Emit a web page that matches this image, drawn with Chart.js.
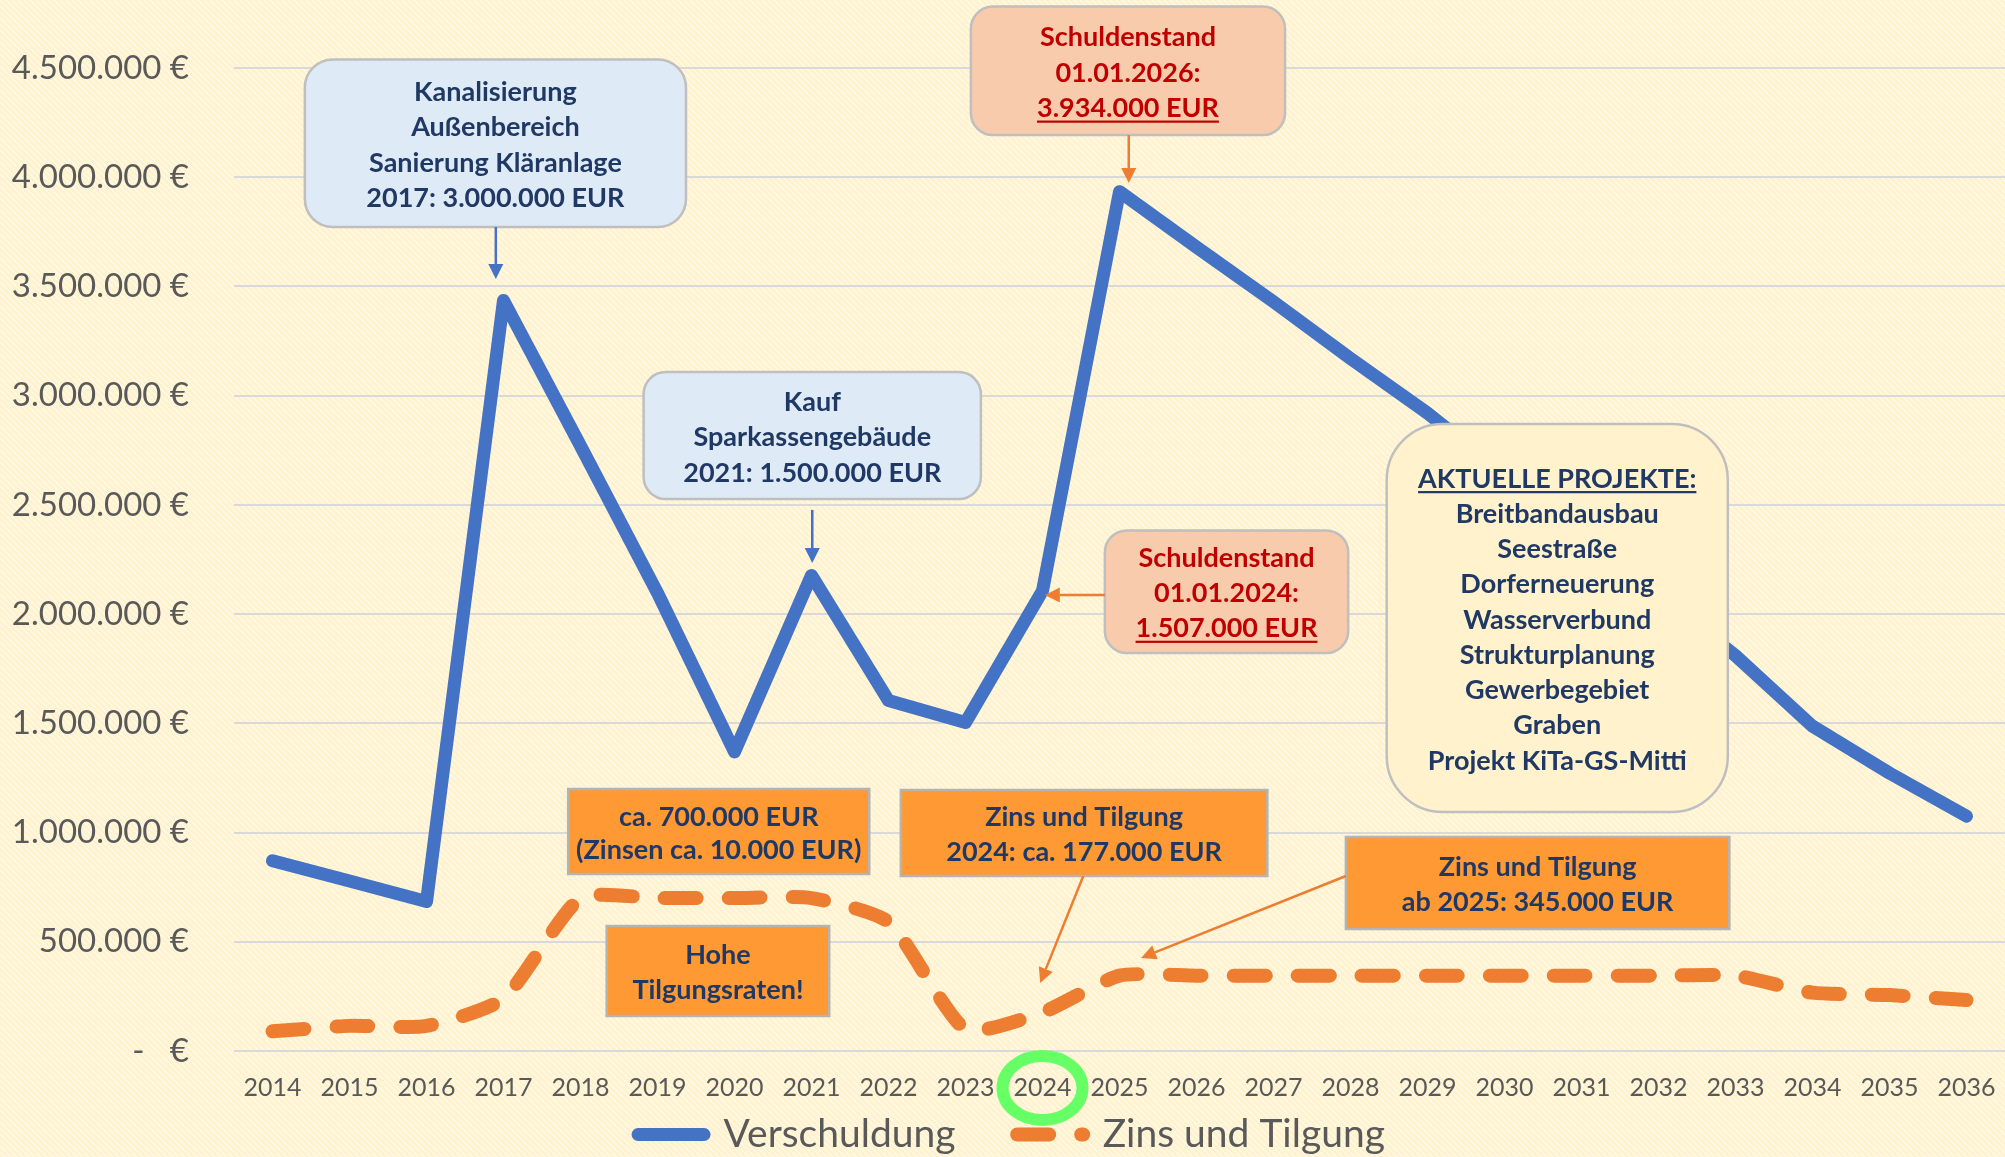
<!DOCTYPE html>
<html><head><meta charset="utf-8">
<script src="https://cdn.jsdelivr.net/npm/chart.js@4.4.1/dist/chart.umd.min.js"></script>
<style>html,body{margin:0;padding:0;background:#FFF2CC;}canvas{display:block;}</style>
</head><body>
<canvas id="c" width="2005" height="1157"></canvas>
<script>
// ---------- DATA ----------
const years = ['2014','2015','2016','2017','2018','2019','2020','2021','2022','2023','2024','2025','2026','2027','2028','2029','2030','2031','2032','2033','2034','2035','2036'];
const verschuldung = [871000, 778000, 684000, 3436000, 2770000, 2097000, 1369000, 2177000, 1604000, 1504000, 2107000, 3934000, 3680000, 3430000, 3170000, 2920000, 2640000, 2360000, 2090000, 1810000, 1487000, 1272000, 1075000];
const zinsTilgung = [90000, 115000, 115000, 240000, 700000, 700000, 700000, 700000, 590000, 100000, 177000, 345000, 345000, 345000, 345000, 345000, 345000, 345000, 345000, 345000, 267000, 256000, 233000];
const seriesNames = ['Verschuldung', 'Zins und Tilgung'];
const yMin = 0, yMax = 4500000, yStep = 500000;
const highlightYear = '2024';

// ---------- ANNOTATIONS (x in category index units, y in axis values) ----------
const boxes = [
  {x0:0.42, x1:5.37, y0:4539000, y1:3772000, r:28, fill:'#DEEBF7', stroke:'#BFBFBF', color:'#203864', lh:35.3,
   lines:['Kanalisierung','Außenbereich','Sanierung Kläranlage','2017: 3.000.000 EUR']},
  {x0:4.82, x1:9.20, y0:3108000, y1:2527000, r:22, fill:'#DEEBF7', stroke:'#BFBFBF', color:'#203864', lh:35.5,
   lines:['Kauf','Sparkassengebäude','2021: 1.500.000 EUR']},
  {x0:9.07, x1:13.15, y0:4781000, y1:4193000, r:22, fill:'#F8CBAD', stroke:'#BFBFBF', color:'#C00000', lh:35.7,
   lines:['Schuldenstand','01.01.2026:','3.934.000 EUR'], underline:[2]},
  {x0:10.81, x1:13.97, y0:2383000, y1:1822000, r:22, fill:'#F8CBAD', stroke:'#BFBFBF', color:'#C00000', lh:35,
   lines:['Schuldenstand','01.01.2024:','1.507.000 EUR'], underline:[2]},
  {x0:14.47, x1:18.90, y0:2870000, y1:1094000, r:56, fill:'#FFF2CC', stroke:'#BFBFBF', color:'#203864', lh:35.25,
   lines:['AKTUELLE PROJEKTE:','Breitbandausbau','Seestraße','Dorferneuerung','Wasserverbund','Strukturplanung','Gewerbegebiet','Graben','Projekt KiTa-GS-Mitti'], underline:[0]},
  {x0:3.84, x1:7.75, y0:1199000, y1:810000, r:0, fill:'#FF9933', stroke:'#B4B4B4', color:'#203864', lh:33,
   lines:['ca. 700.000 EUR','(Zinsen ca. 10.000 EUR)']},
  {x0:4.34, x1:7.23, y0:572000, y1:160000, r:0, fill:'#FF9933', stroke:'#B4B4B4', color:'#203864', lh:35,
   lines:['Hohe','Tilgungsraten!']},
  {x0:8.16, x1:12.92, y0:1195000, y1:801000, r:0, fill:'#FF9933', stroke:'#B4B4B4', color:'#203864', lh:35,
   lines:['Zins und Tilgung','2024: ca. 177.000 EUR']},
  {x0:13.94, x1:18.92, y0:980000, y1:558000, r:0, fill:'#FF9933', stroke:'#B4B4B4', color:'#203864', lh:35,
   lines:['Zins und Tilgung','ab 2025: 345.000 EUR']}
];
const arrows = [
  {a:[2.90,3772000], b:[2.90,3534000], color:'#4472C4'},
  {a:[7.01,2477000], b:[7.01,2234000], color:'#4472C4'},
  {a:[11.12,4193000], b:[11.12,3973000], color:'#ED7D31'},
  {a:[10.81,2087000], b:[10.03,2087000], color:'#ED7D31'},
  {a:[10.53,801000], b:[9.97,311000], color:'#ED7D31'},
  {a:[13.94,801000], b:[11.28,426000], color:'#ED7D31'}
];

const X_LABEL_LH = 74; // line box of the year labels
const LEGEND_SHIFT = 9;

function fmtEuro(v){
  if (v === 0) return '-\u00A0\u00A0\u00A0€';
  return String(v).replace(/\B(?=(\d{3})+(?!\d))/g, '.') + ' €';
}

// background pattern
const pat = document.createElement('canvas');
pat.width = 6; pat.height = 6;
(function(){
  const pc = pat.getContext('2d');
  pc.fillStyle = '#FFF2CC'; pc.fillRect(0,0,6,6);
  pc.strokeStyle = 'rgba(255,255,255,0.6)'; pc.lineWidth = 1.3;
  pc.beginPath();
  for (let k=-6;k<=6;k+=6){ pc.moveTo(k,0); pc.lineTo(k+6,6); }
  pc.stroke();
})();

const bgPlugin = {
  id:'bg',
  afterLayout(chart){
    if (chart.legend){ chart.legend.left += LEGEND_SHIFT; chart.legend.right += LEGEND_SHIFT; }
  },
  beforeDraw(chart){
    const ctx = chart.ctx;
    ctx.save();
    ctx.fillStyle = ctx.createPattern(pat,'repeat');
    ctx.fillRect(0,0,chart.width,chart.height);
    ctx.restore();
  }
};

function roundRect(ctx,x,y,w,h,r){
  ctx.beginPath();
  if (r<=0){ ctx.rect(x,y,w,h); return; }
  ctx.moveTo(x+r,y); ctx.lineTo(x+w-r,y); ctx.arcTo(x+w,y,x+w,y+r,r);
  ctx.lineTo(x+w,y+h-r); ctx.arcTo(x+w,y+h,x+w-r,y+h,r);
  ctx.lineTo(x+r,y+h); ctx.arcTo(x,y+h,x,y+h-r,r);
  ctx.lineTo(x,y+r); ctx.arcTo(x,y,x+r,y,r); ctx.closePath();
}

const notesPlugin = {
  id:'notes',
  afterDraw(chart){
    const ctx = chart.ctx, xs = chart.scales.x, ys = chart.scales.y;
    ctx.save();
    ctx.font = 'bold 27px Lato';
    ctx.textAlign = 'center';
    ctx.textBaseline = 'middle';
    for (const b of boxes){
      const X0 = xs.getPixelForValue(b.x0), X1 = xs.getPixelForValue(b.x1);
      const Y0 = ys.getPixelForValue(b.y0), Y1 = ys.getPixelForValue(b.y1);
      roundRect(ctx, X0, Y0, X1-X0, Y1-Y0, b.r);
      ctx.fillStyle = b.fill; ctx.fill();
      ctx.lineWidth = 2.5; ctx.strokeStyle = b.stroke; ctx.stroke();
      const cx = (X0+X1)/2, cy = (Y0+Y1)/2 + 2;
      const n = b.lines.length;
      ctx.fillStyle = b.color;
      b.lines.forEach((t,i)=>{
        const ty = cy + (i-(n-1)/2)*b.lh;
        ctx.fillText(t, cx, ty);
        if (b.underline && b.underline.includes(i)){
          const w = ctx.measureText(t).width;
          ctx.fillRect(cx-w/2, ty+12, w, 2.2);
        }
      });
    }
    for (const a of arrows){
      const x0 = xs.getPixelForValue(a.a[0]), y0 = ys.getPixelForValue(a.a[1]);
      const x1 = xs.getPixelForValue(a.b[0]), y1 = ys.getPixelForValue(a.b[1]);
      const ang = Math.atan2(y1-y0, x1-x0), hl = 15, hw = 7.5;
      ctx.strokeStyle = a.color; ctx.fillStyle = a.color; ctx.lineWidth = 2.5;
      ctx.beginPath(); ctx.moveTo(x0,y0);
      ctx.lineTo(x1 - Math.cos(ang)*hl, y1 - Math.sin(ang)*hl); ctx.stroke();
      ctx.beginPath(); ctx.moveTo(x1,y1);
      ctx.lineTo(x1 - Math.cos(ang)*hl + Math.sin(ang)*hw, y1 - Math.sin(ang)*hl - Math.cos(ang)*hw);
      ctx.lineTo(x1 - Math.cos(ang)*hl - Math.sin(ang)*hw, y1 - Math.sin(ang)*hl + Math.cos(ang)*hw);
      ctx.closePath(); ctx.fill();
    }
    // highlight circle around the year label
    const idx = years.indexOf(highlightYear);
    const ex = xs.getPixelForValue(idx);
    const ey = xs.top + X_LABEL_LH/2;
    ctx.beginPath(); ctx.ellipse(ex, ey, 40, 32, 0, 0, Math.PI*2);
    ctx.lineWidth = 12; ctx.strokeStyle = '#66FF66'; ctx.stroke();
    ctx.restore();
  }
};

new Chart(document.getElementById('c'), {
  type:'line',
  data:{
    labels: years,
    datasets:[
      {label: seriesNames[0], data: verschuldung, borderColor:'#4472C4', backgroundColor:'#4472C4',
       borderWidth:13, pointRadius:0, tension:0, borderJoinStyle:'round', borderCapStyle:'round', fill:false},
      {label: seriesNames[1], data: zinsTilgung, borderColor:'#ED7D31', backgroundColor:'#ED7D31',
       borderWidth:14, borderDash:[32,32], pointRadius:0, tension:0.2, borderJoinStyle:'round', borderCapStyle:'round', fill:false}
    ]
  },
  options:{
    responsive:false, animation:false, events:[],
    layout:{padding:{top:68, left:0, right:0, bottom:0}},
    scales:{
      x:{
        offset:true,
        grid:{display:false, drawTicks:false}, border:{display:false},
        ticks:{font:{family:'Lato', size:25, lineHeight:X_LABEL_LH/25}, color:'#595959', padding:0, maxRotation:0, autoSkip:false},
        afterFit(s){ s.height = 56; }
      },
      y:{
        min:yMin, max:yMax,
        grid:{color:'#D9D9D9', lineWidth:2, drawTicks:false}, border:{display:false},
        ticks:{stepSize:yStep, font:{family:'Lato', size:33}, color:'#595959', padding:45, callback:(v)=>fmtEuro(v)},
        afterFit(s){ s.width = 234; }
      }
    },
    plugins:{
      tooltip:{enabled:false},
      legend:{
        position:'bottom',
        maxHeight:50,
        labels:{
          usePointStyle:true, pointStyleWidth:66, padding:8,
          font:{family:'Lato', size:39}, color:'#595959',
          generateLabels(chart){
            const items = Chart.defaults.plugins.legend.labels.generateLabels(chart);
            items.forEach(it=>{
              const ds = chart.data.datasets[it.datasetIndex];
              it.pointStyle = 'line';
              it.lineWidth = ds.borderWidth;
              it.lineDash = ds.borderDash || [];
              it.lineCap = 'round';
              it.strokeStyle = ds.borderColor;
              if (it.datasetIndex === 0) it.text = it.text + '\u2003\u2002\u2009';
            });
            return items;
          }
        }
      }
    }
  },
  plugins:[bgPlugin, notesPlugin]
});
</script>
</body></html>
